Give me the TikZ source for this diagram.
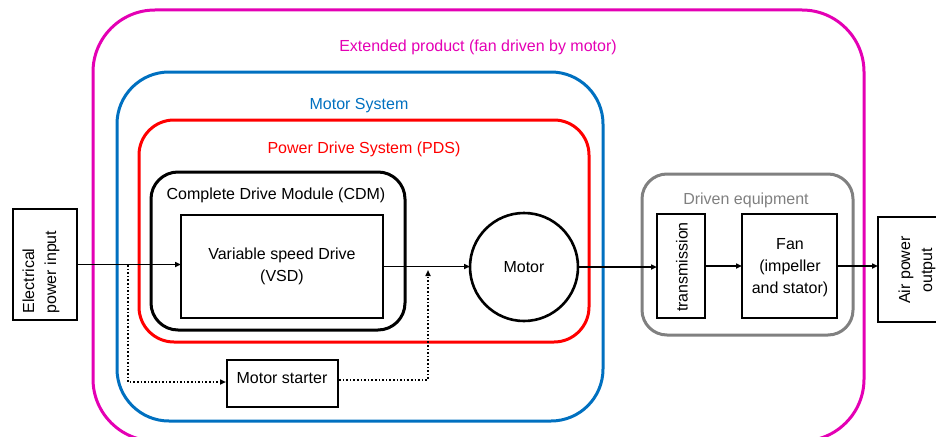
\documentclass[tikz,border=0pt]{standalone}
\usepackage{fontspec}
\setmainfont{Liberation Sans}
\usetikzlibrary{arrows.meta}

\definecolor{extmag}{RGB}{228,0,180}
\definecolor{sysblue}{RGB}{0,112,192}
\definecolor{pdsred}{RGB}{255,0,0}
\definecolor{drvgray}{RGB}{128,128,128}

\begin{document}
\begin{tikzpicture}[x=1pt,y=-1pt,font=\fontsize{16}{22}\selectfont]
\tikzstyle{every node}=[inner sep=0pt, outer sep=0pt]
\tikzstyle{group}=[draw=#1, line width=3pt, rectangle]
\tikzstyle{box}=[draw, line width=2.8pt, rectangle, align=center]
\tikzstyle{flow}=[line width=1.6pt, -{Triangle[length=6pt,width=5pt]}]
\tikzstyle{bypass}=[line width=1.6pt, dash pattern=on 1.6pt off 2pt, -{Triangle[length=6pt,width=5pt]}]
\useasboundingbox (0,0) rectangle (936,436);
% nested system boundaries
\node (ext) [group=extmag, rounded corners=62pt, minimum width=771pt, minimum height=431pt] at (478.5,225.5) {};
\node (sys) [group=sysblue, rounded corners=52pt, minimum width=486pt, minimum height=349pt] at (360,246.5) {};
\node (pds) [group=pdsred, rounded corners=35pt, minimum width=450pt, minimum height=222pt] at (364,231) {};
\node (cdm) [group=black, rounded corners=27pt, minimum width=254pt, minimum height=158pt] at (278,251) {};
\node (drv) [group=drvgray, rounded corners=25pt, minimum width=211pt, minimum height=161pt] at (747.5,254.5) {};
\node (exttxt) [text=extmag] at (478,47) {Extended product (fan driven by motor)};
\node (systxt) [text=sysblue] at (359,106) {Motor System};
\node (pdstxt) [text=pdsred] at (364,149) {Power Drive System (PDS)};
\node (cdmtxt) at (276,195) {Complete Drive Module (CDM)};
\node (drvtxt) [text=drvgray] at (746,200) {Driven equipment};
% blocks
\node (elec) [box, minimum width=64pt, minimum height=111pt] at (45,264.5) {};
\node (electxt) [rotate=90, align=left] at (41,272) {Electrical\\power input};
\node (vsd) [box, minimum width=202pt, minimum height=103pt] at (282,266.5) {Variable speed Drive\\(VSD)};
\node (motor) [draw, circle, line width=2.6pt, minimum size=108pt] at (524,267) {Motor};
\node (starter) [box, minimum width=111pt, minimum height=47pt] at (282.5,383.5) {};
\node (startertxt) at (282,378) {Motor starter};
\node (trans) [box, minimum width=48pt, minimum height=104pt] at (681,266) {};
\node (transtxt) [rotate=90] at (682,267) {transmission};
\node (fan) [box, minimum width=95pt, minimum height=104pt] at (789.5,266) {};
\node (fantxt) [align=center] at (790,268) {Fan\\(impeller\\and stator)};
\node (air) [box, minimum width=78pt, minimum height=105pt] at (917,269.5) {};
\node (airtxt) [rotate=90, align=center] at (917,270) {Air power\\output};
% power flow
\draw[flow] (elec.east) -- (elec.east -| vsd.west);
\draw[flow] (vsd.east) -- (vsd.east -| motor.west);
\draw[flow] (motor.east) -- (motor.east -| trans.west);
\draw[flow] (trans.east) -- (trans.east -| fan.west);
\draw[flow] (fan.east) -- (fan.east -| air.west);
% starter bypass
\coordinate (tap) at (128,265);
\coordinate (tapin) at (226,382);
\coordinate (tapout) at (339,380);
\coordinate (join) at (428,270);
\draw[bypass] (tap) |- (tapin);
\draw[bypass] (tapout) -| (join);
\end{tikzpicture}
\end{document}
